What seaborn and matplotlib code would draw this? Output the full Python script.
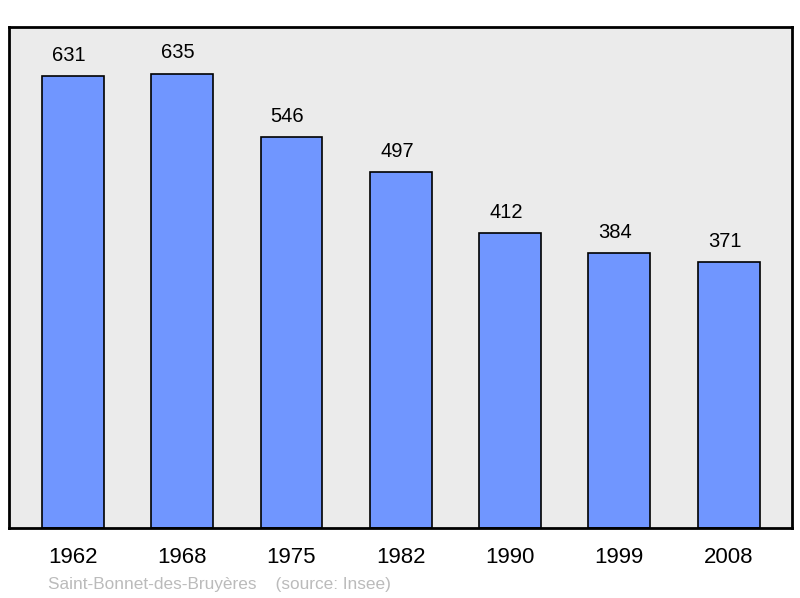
import matplotlib
matplotlib.use("Agg")
import matplotlib.pyplot as plt
import seaborn as sns
import pandas as pd

years = ["1962", "1968", "1975", "1982", "1990", "1999", "2008"]
population = [631, 635, 546, 497, 412, 384, 371]

sns.set_style("white")
plt.rcParams['font.family'] = ['Liberation Sans', 'DejaVu Sans']

df = pd.DataFrame({"year": years, "pop": population})

fig = plt.figure(figsize=(8, 5.98), dpi=100)
ax = fig.add_axes([9/800, 70/598, 783/800, 501/598])
ax.set_facecolor("#ebebeb")

sns.barplot(data=df, x="year", y="pop", ax=ax, color="#7096ff", saturation=1,
            width=0.567, edgecolor="black", linewidth=1.2)

ax.set_xlim(-0.585, 6.58)
ax.set_ylim(0, 700)
ax.set_yticks([])
ax.set_xlabel("")
ax.set_ylabel("")
ax.tick_params(axis="x", length=0, labelsize=16, pad=14, colors="black")
for s in ax.spines.values():
    s.set_visible(True)
    s.set_color("black")
    s.set_linewidth(2)

for i, v in enumerate(population):
    ax.text(i - 0.036, v + 16, str(v), ha="center", va="bottom", fontsize=14.5, color="black")

fig.text(48/800, 1 - 584.5/598, "Saint-Bonnet-des-Bruyères    (source: Insee)",
         ha="left", va="center", fontsize=12.4, color="#bbbbbb")

fig.savefig("out.png", dpi=100, facecolor="white")
